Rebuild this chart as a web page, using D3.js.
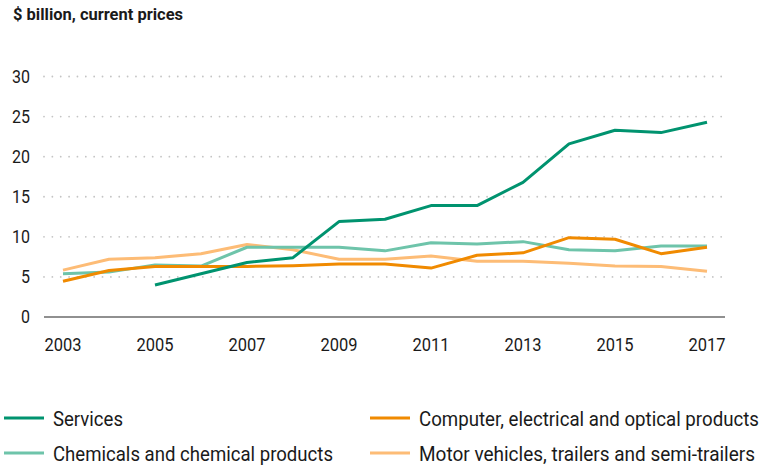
<!DOCTYPE html>
<html>
<head>
<meta charset="utf-8">
<script src="https://cdn.jsdelivr.net/npm/d3@7"></script>
<style>
	body { margin: 0; background: #fff; }
	text { font-family: "Roboto", sans-serif; fill: #1a1a1a; }
</style>
</head>
<body>
<script>
var years = [2003, 2004, 2005, 2006, 2007, 2008, 2009, 2010, 2011, 2012, 2013, 2014, 2015, 2016, 2017]
var yTicks = [0, 5, 10, 15, 20, 25, 30]
var xTicks = [2003, 2005, 2007, 2009, 2011, 2013, 2015, 2017]

var services = [null, null, 4.0, 5.4, 6.8, 7.4, 11.9, 12.2, 13.9, 13.9, 16.8, 21.6, 23.3, 23.0, 24.3]
var computer = [4.45, 5.8, 6.3, 6.3, 6.3, 6.4, 6.6, 6.6, 6.1, 7.7, 8.0, 9.9, 9.7, 7.9, 8.7]
var chemicals = [5.4, 5.6, 6.5, 6.35, 8.7, 8.7, 8.7, 8.25, 9.25, 9.1, 9.4, 8.4, 8.25, 8.85, 8.85]
var motor = [5.85, 7.2, 7.4, 7.9, 9.05, 8.4, 7.2, 7.2, 7.6, 6.95, 6.95, 6.7, 6.35, 6.3, 5.7]

var seriesNames = ["Services", "Computer, electrical and optical products", "Chemicals and chemical products", "Motor vehicles, trailers and semi-trailers"]
var seriesColors = ["#00936f", "#f08a00", "#6ec4aa", "#fdbc76"]
var seriesValues = [services, computer, chemicals, motor]

var width = 764, height = 469

var svg = d3.select("body").append("svg")
	.attr("width", width)
	.attr("height", height)

// the original uses a condensed face, so squeeze Roboto to the measured widths
function squeeze(sel, w) {
	sel.attr("textLength", w).attr("lengthAdjust", "spacingAndGlyphs")
}

// title
svg.append("text").attr("x", 13).attr("y", 20)
	.style("font-size", "17px").style("font-weight", "bold")
	.text("$ billion, current prices")
	.call(squeeze, 170)

var x = d3.scaleLinear().domain([2003, 2017]).range([63, 707])
var y = d3.scaleLinear().domain([0, 30]).range([317, 76.5])

// gridlines
svg.append("g").selectAll("line").data(yTicks.filter(function(d) { return d > 0 }))
	.enter().append("line")
	.attr("x1", 44).attr("x2", 726)
	.attr("y1", function(d) { return y(d) }).attr("y2", function(d) { return y(d) })
	.attr("stroke", "#c4c4c4").attr("stroke-width", 1.8)
	.attr("stroke-dasharray", "0.01 8.35").attr("stroke-linecap", "round")

// baseline
svg.append("line").attr("x1", 44).attr("x2", 725)
	.attr("y1", y(0)).attr("y2", y(0))
	.attr("stroke", "#222").attr("stroke-width", 1.2)

// y labels
svg.append("g").selectAll("text").data(yTicks).enter().append("text")
	.attr("x", 30).attr("y", function(d) { return y(d) + 6 })
	.attr("text-anchor", "end").style("font-size", "18px")
	.attr("textLength", function(d) { return String(d).length * 9 })
	.attr("lengthAdjust", "spacingAndGlyphs")
	.text(function(d) { return d })

// x labels
svg.append("g").selectAll("text").data(xTicks).enter().append("text")
	.attr("x", function(d) { return x(d) }).attr("y", 351)
	.attr("text-anchor", "middle").style("font-size", "18px")
	.call(squeeze, 37)
	.text(function(d) { return d })

var line = d3.line()
	.defined(function(d) { return d != null })
	.x(function(d, i) { return x(years[i]) })
	.y(function(d) { return y(d) })

// draw order: motor, chemicals, computer, services
var order = [3, 2, 1, 0]
order.forEach(function(k) {
	svg.append("path").datum(seriesValues[k])
		.attr("d", line)
		.attr("fill", "none")
		.attr("stroke", seriesColors[k])
		.attr("stroke-width", 3)
		.attr("stroke-linejoin", "round")
})

// legend (text stretched a bit taller instead of a bigger size, so it stays inside the page)
var legendPos = [[4, 418], [370, 418], [4, 453], [370, 453]]
var legendWidths = [70, 340, 280, 336]
seriesNames.forEach(function(name, k) {
	var p = legendPos[k]
	svg.append("line").attr("x1", p[0]).attr("x2", p[0] + 40)
		.attr("y1", p[1]).attr("y2", p[1])
		.attr("stroke", seriesColors[k]).attr("stroke-width", 3)
	svg.append("text")
		.attr("transform", "translate(" + (p[0] + 49) + "," + (p[1] + 8) + ") scale(1,1.13)")
		.style("font-size", "18.5px")
		.text(name)
		.call(squeeze, legendWidths[k])
})
</script>
</body>
</html>
